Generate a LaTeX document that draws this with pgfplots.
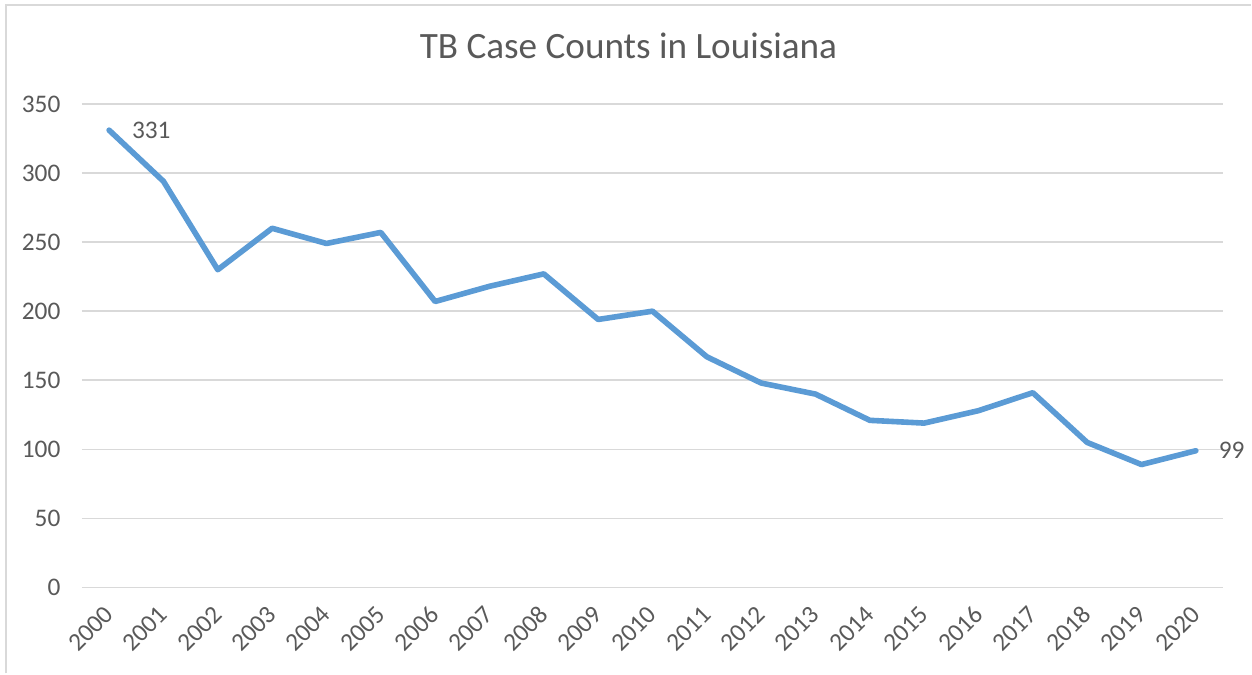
\documentclass[border=0pt]{standalone}
\usepackage{fontspec}
\setmainfont{Carlito}
\usepackage{pgfplots}
\pgfplotsset{compat=1.18}
\usepackage{pgfplotstable}
\definecolor{lineblue}{HTML}{5B9BD5}
\definecolor{gridgray}{HTML}{D9D9D9}
\definecolor{textgray}{HTML}{595959}
\pgfplotstableread{
idx year cases
0 2000 331
1 2001 294
2 2002 230
3 2003 260
4 2004 249
5 2005 257
6 2006 207
7 2007 218
8 2008 227
9 2009 194
10 2010 200
11 2011 167
12 2012 148
13 2013 140
14 2014 121
15 2015 119
16 2016 128
17 2017 141
18 2018 105
19 2019 89
20 2020 99
}\tbdata
\pgfplotstableread{
idx cases
0 331
20 99
}\tblabels
\begin{document}
\begin{tikzpicture}
\path (-61.5pt,-64.5pt) rectangle (877.5pt,441pt);
\draw[gridgray, line width=1.5pt] (-57pt,-64.5pt) -- (-57pt,437.25pt) -- (877.5pt,437.25pt);
\begin{axis}[
  at={(0pt,0pt)}, anchor=south west,
  scale only axis,
  width=856.5pt, height=363pt,
  xmin=-0.5, xmax=20.5,
  ymin=0, ymax=350,
  ytick={0,50,...,350},
  xtick={0,...,20},
  xticklabels={2000,2001,2002,2003,2004,2005,2006,2007,2008,2009,2010,2011,2012,2013,2014,2015,2016,2017,2018,2019,2020},
  axis line style={draw=none},
  major tick length=0pt,
  ymajorgrids,
  grid style={gridgray, line width=1.2pt},
  /pgf/number format/assume math mode=true,
  ticklabel style={font=\fontsize{19}{22}\selectfont, text=textgray},
  yticklabel style={anchor=east, inner sep=0pt, xshift=-16pt},
  xticklabel style={rotate=45, anchor=east, inner sep=0pt},
  xticklabel shift=17pt,
  clip=false,
]
\addplot[lineblue, line width=4.2pt, line join=round, line cap=round] table[x=idx, y=cases] {\tbdata};
\addplot[draw=none, mark=none,
  nodes near coords,
  point meta=explicit symbolic,
  every node near coord/.style={anchor=west, inner sep=0pt, xshift=17pt, yshift=0pt, font=\fontsize{19}{22}\selectfont, text=textgray}
] table[x=idx, y=cases, meta=cases] {\tblabels};
\end{axis}
\node[anchor=base, text=textgray, font=\fontsize{27.9}{32}\selectfont, inner sep=0pt] at (410.25pt,396.75pt) {TB Case Counts in Louisiana};
\end{tikzpicture}
\end{document}
